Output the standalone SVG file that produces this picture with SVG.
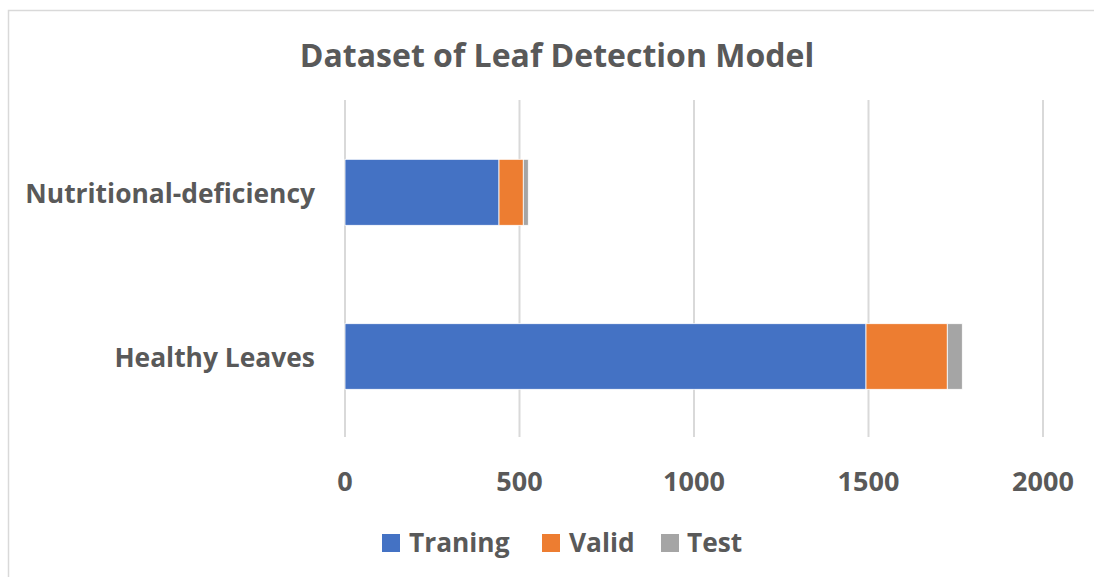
<svg xmlns="http://www.w3.org/2000/svg" width="1094" height="577" viewBox="0 0 1094 577">
<style>
text{font-family:"Open Sans","Noto Sans",sans-serif;font-weight:bold;fill:#595959}
.grid{stroke:#d9d9d9;stroke-width:2}
.t{font-size:32px}
.cat{font-size:26.4px}
.ax{font-size:27px}
.lg{font-size:26.3px}
.bar{stroke:#ffffff;stroke-width:0.8}
</style>
<rect x="0" y="0" width="1094" height="577" fill="#ffffff"/>
<path d="M8.5,577 V10.5 H1094" fill="none" stroke="#d9d9d9" stroke-width="1.5"/>
<text class="t" x="557" y="67" text-anchor="middle">Dataset of Leaf Detection Model</text>
<g id="grid">
<line class="grid" x1="345" y1="100" x2="345" y2="437"/>
<line class="grid" x1="519.5" y1="100" x2="519.5" y2="437"/>
<line class="grid" x1="694" y1="100" x2="694" y2="437"/>
<line class="grid" x1="868.5" y1="100" x2="868.5" y2="437"/>
<line class="grid" x1="1043" y1="100" x2="1043" y2="437"/>
</g>
<g id="bar-nutritional">
<rect class="bar" x="345" y="159.3" width="154" height="66" fill="#4472c4"/>
<rect class="bar" x="499" y="159.3" width="24.3" height="66" fill="#ed7d31"/>
<rect class="bar" x="523.3" y="159.3" width="5" height="66" fill="#a5a5a5"/>
<text class="cat" x="315" y="203" text-anchor="end">Nutritional-deficiency</text>
</g>
<g id="bar-healthy">
<rect class="bar" x="345" y="323.7" width="521" height="65.6" fill="#4472c4"/>
<rect class="bar" x="866" y="323.7" width="81.3" height="65.6" fill="#ed7d31"/>
<rect class="bar" x="947.3" y="323.7" width="15" height="65.6" fill="#a5a5a5"/>
<text class="cat" x="315" y="367" text-anchor="end">Healthy Leaves</text>
</g>
<g id="axis">
<text class="ax" x="345" y="491" text-anchor="middle">0</text>
<text class="ax" x="519.5" y="491" text-anchor="middle">500</text>
<text class="ax" x="694" y="491" text-anchor="middle">1000</text>
<text class="ax" x="868.5" y="491" text-anchor="middle">1500</text>
<text class="ax" x="1043" y="491" text-anchor="middle">2000</text>
</g>
<g id="legend">
<rect x="382" y="534" width="18" height="18" fill="#4472c4"/>
<text class="lg" x="409" y="552">Traning</text>
<rect x="542" y="534" width="18" height="18" fill="#ed7d31"/>
<text class="lg" x="569" y="552">Valid</text>
<rect x="661" y="534" width="18" height="18" fill="#a5a5a5"/>
<text class="lg" x="687" y="552">Test</text>
</g>
</svg>
